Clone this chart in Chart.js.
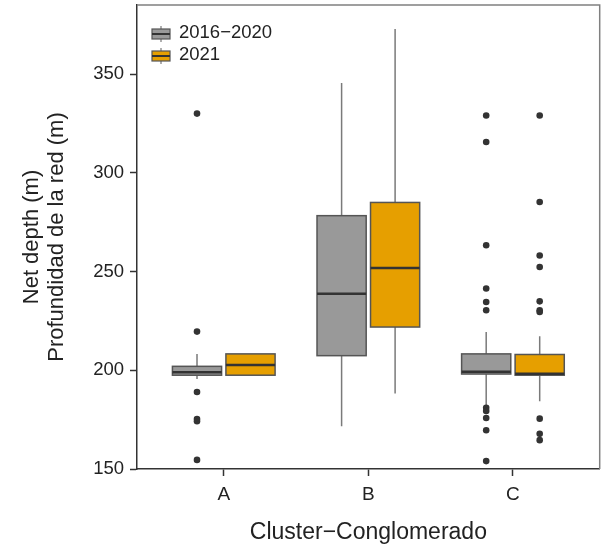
<!DOCTYPE html>
<html lang="en">
<head>
    <meta charset="UTF-8">
    <title>Net depth by cluster</title>
    <script src="https://cdn.jsdelivr.net/npm/chart.js"></script>
    <style>
        html, body {
            margin: 0;
            padding: 0;
            background: #fff;
        }

        .container {
            width: 603px;
            height: 546px;
            position: relative;
        }
    </style>
</head>
<body>
    <div class="container">
        <canvas id="boxChart" width="603" height="546"></canvas>
    </div>

    <script>
        // Values
        const categories = ['A', 'B', 'C'];
        const seriesNames = ['2016\u22122020', '2021'];
        const yTicks = [150, 200, 250, 300, 350];

        // 2016-2020
        const q1Old = [197.5, 207.4, 198.1];
        const medOld = [199.0, 238.8, 199.3];
        const q3Old = [202.0, 278.3, 208.3];
        const lowOld = [195.6, 171.6, 182.0];
        const highOld = [208.2, 345.5, 219.4];
        const outOld = [
            [330, 219.6, 189, 175.3, 174.2, 154.6],
            [],
            [329, 315.6, 263.3, 241.4, 234.6, 230.4, 181, 179.4, 175.8, 169.6, 154]
        ];

        // 2021
        const q1New = [197.5, 221.9, 197.5];
        const medNew = [202.7, 251.8, 198.2];
        const q3New = [208.3, 285.0, 208.0];
        const lowNew = [197.5, 188.2, 184.3];
        const highNew = [208.3, 372.8, 217.2];
        const outNew = [
            [],
            [],
            [329, 285.2, 258.1, 252.3, 234.9, 230.4, 229.5, 175.5, 167.8, 164.6]
        ];

        const FONT = "'Liberation Sans', Arial, sans-serif";
        const GREY = '#999999';
        const ORANGE = '#E69F00';
        const DODGE = 0.185;
        const BOX_W = 0.34;

        const groups = [
            { q1: q1Old, med: medOld, q3: q3Old, lo: lowOld, hi: highOld, out: outOld, fill: GREY, shift: -DODGE },
            { q1: q1New, med: medNew, q3: q3New, lo: lowNew, hi: highNew, out: outNew, fill: ORANGE, shift: DODGE }
        ];

        // outliers become scatter points
        function outlierPoints(g) {
            const pts = [];
            g.out.forEach((vals, i) => {
                vals.forEach(v => pts.push({ x: i + g.shift, y: v }));
            });
            return pts;
        }

        // boxes and whiskers drawn through the chart scales
        const boxPlugin = {
            id: 'boxes',
            beforeDatasetsDraw(chart) {
                const ctx = chart.ctx;
                const xs = chart.scales.x;
                const ys = chart.scales.y;
                ctx.save();
                groups.forEach(g => {
                    categories.forEach((c, i) => {
                        const cx = xs.getPixelForValue(i + g.shift);
                        const x0 = xs.getPixelForValue(i + g.shift - BOX_W / 2);
                        const x1 = xs.getPixelForValue(i + g.shift + BOX_W / 2);
                        const yq1 = ys.getPixelForValue(g.q1[i]);
                        const yq3 = ys.getPixelForValue(g.q3[i]);
                        const ymed = ys.getPixelForValue(g.med[i]);
                        const ylo = ys.getPixelForValue(g.lo[i]);
                        const yhi = ys.getPixelForValue(g.hi[i]);

                        // whiskers
                        ctx.strokeStyle = '#7a7a7a';
                        ctx.lineWidth = 1.5;
                        ctx.beginPath();
                        ctx.moveTo(cx, yq3);
                        ctx.lineTo(cx, yhi);
                        ctx.moveTo(cx, yq1);
                        ctx.lineTo(cx, ylo);
                        ctx.stroke();

                        // box
                        ctx.fillStyle = g.fill;
                        ctx.fillRect(x0, yq3, x1 - x0, yq1 - yq3);
                        ctx.strokeStyle = '#555555';
                        ctx.lineWidth = 1.5;
                        ctx.strokeRect(x0, yq3, x1 - x0, yq1 - yq3);

                        // median
                        ctx.strokeStyle = '#333333';
                        ctx.lineWidth = 2.5;
                        ctx.beginPath();
                        ctx.moveTo(x0, ymed);
                        ctx.lineTo(x1, ymed);
                        ctx.stroke();
                    });
                });
                ctx.restore();
            },
            afterDraw(chart) {
                const ctx = chart.ctx;
                const a = chart.chartArea;
                ctx.save();
                // light frame on top and right
                ctx.strokeStyle = '#808080';
                ctx.lineWidth = 1.5;
                ctx.beginPath();
                ctx.moveTo(a.left, a.top);
                ctx.lineTo(a.right, a.top);
                ctx.lineTo(a.right, a.bottom);
                ctx.stroke();

                // legend
                const rows = [34, 56];
                ctx.font = '18.5px ' + FONT;
                ctx.textBaseline = 'middle';
                ctx.textAlign = 'left';
                rows.forEach((y, k) => {
                    const ix = a.left + 24;
                    ctx.strokeStyle = '#7a7a7a';
                    ctx.lineWidth = 1.2;
                    ctx.beginPath();
                    ctx.moveTo(ix, y - 8);
                    ctx.lineTo(ix, y + 8);
                    ctx.stroke();
                    ctx.fillStyle = groups[k].fill;
                    ctx.fillRect(ix - 9, y - 5, 18, 10);
                    ctx.strokeStyle = '#555555';
                    ctx.strokeRect(ix - 9, y - 5, 18, 10);
                    ctx.strokeStyle = '#333333';
                    ctx.lineWidth = 2;
                    ctx.beginPath();
                    ctx.moveTo(ix - 9, y);
                    ctx.lineTo(ix + 9, y);
                    ctx.stroke();
                    ctx.fillStyle = '#222222';
                    ctx.fillText(seriesNames[k], a.left + 42, y - 1);
                });
                ctx.restore();
            }
        };

        const ctx = document.getElementById('boxChart').getContext('2d');
        const chart = new Chart(ctx, {
            type: 'scatter',
            data: {
                datasets: groups.map((g, k) => ({
                    label: seriesNames[k],
                    data: outlierPoints(g),
                    backgroundColor: '#333333',
                    borderColor: '#333333',
                    pointRadius: 3.3,
                    pointHoverRadius: 3.3,
                    borderWidth: 0
                }))
            },
            options: {
                responsive: false,
                animation: false,
                layout: {
                    padding: { top: 5, right: 3, left: 0, bottom: 0 }
                },
                plugins: {
                    legend: { display: false },
                    tooltip: { enabled: false }
                },
                scales: {
                    x: {
                        type: 'linear',
                        min: -0.6,
                        max: 2.6,
                        afterBuildTicks: scale => {
                            scale.ticks = categories.map((c, i) => ({ value: i }));
                        },
                        afterFit: scale => {
                            scale.height = 77;
                            scale.paddingLeft = 0;
                            scale.paddingRight = 0;
                        },
                        ticks: {
                            callback: v => categories[v],
                            font: { family: FONT, size: 19 },
                            color: '#222222',
                            padding: 7,
                            maxRotation: 0
                        },
                        grid: {
                            display: true,
                            drawOnChartArea: false,
                            drawTicks: true,
                            tickLength: 7,
                            tickWidth: 1.5,
                            color: '#333333'
                        },
                        border: { color: '#333333', width: 1.5 },
                        title: {
                            display: true,
                            text: 'Cluster\u2212Conglomerado',
                            font: { family: FONT, size: 23 },
                            color: '#222222',
                            padding: { top: 4, bottom: 0 }
                        }
                    },
                    y: {
                        min: 150,
                        max: 385,
                        afterBuildTicks: scale => {
                            scale.ticks = yTicks.map(v => ({ value: v }));
                        },
                        afterFit: scale => {
                            scale.width = 137;
                            scale.paddingTop = 0;
                            scale.paddingBottom = 0;
                        },
                        ticks: {
                            font: { family: FONT, size: 18.5 },
                            color: '#222222',
                            padding: 6
                        },
                        grid: {
                            display: true,
                            drawOnChartArea: false,
                            drawTicks: true,
                            tickLength: 7,
                            tickWidth: 1.5,
                            color: '#333333'
                        },
                        border: { color: '#333333', width: 1.5 },
                        title: {
                            display: true,
                            text: ['Net depth (m)', 'Profundidad de la red (m)'],
                            font: { family: FONT, size: 22, lineHeight: 1.15 },
                            color: '#222222',
                            padding: { top: 19, bottom: 0 }
                        }
                    }
                }
            },
            plugins: [boxPlugin]
        });
    </script>
</body>
</html>
